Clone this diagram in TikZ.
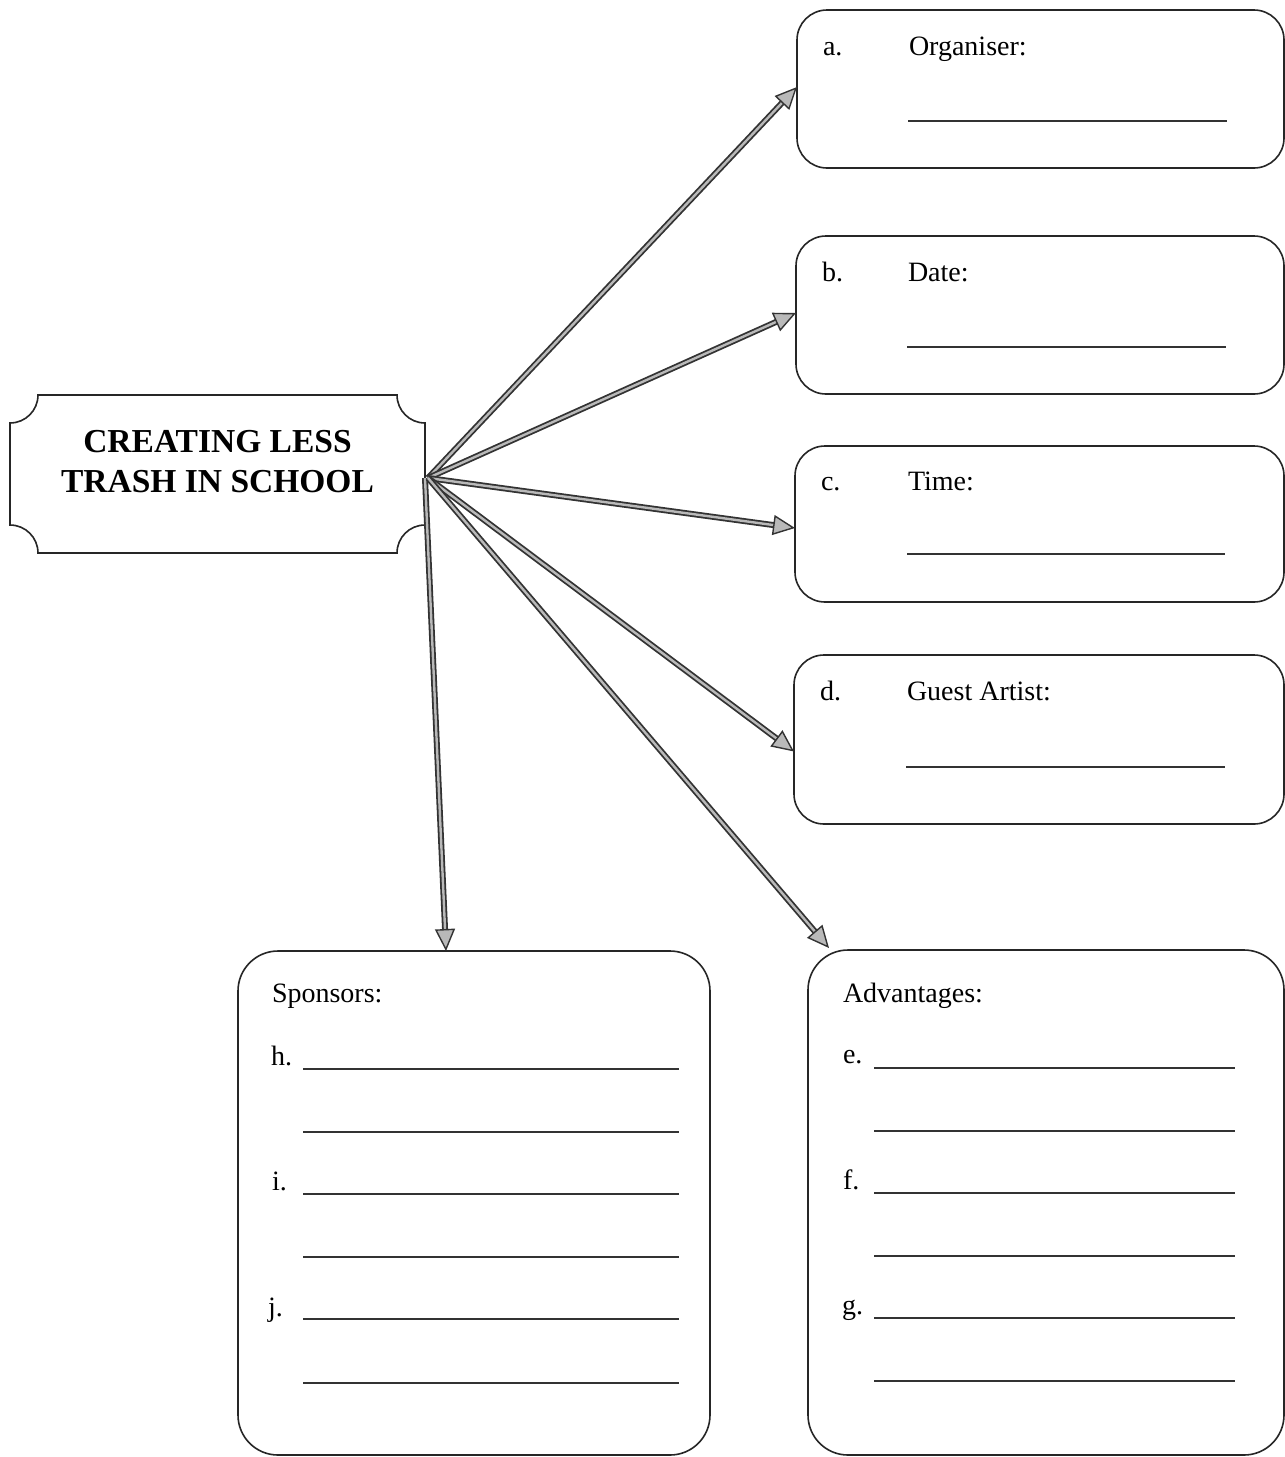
\documentclass[tikz,border=0pt]{standalone}
\usepackage{fontspec}
\setmainfont{Liberation Serif}
\usetikzlibrary{arrows.meta,calc}
\begin{document}
\begin{tikzpicture}[x=1pt,y=-1pt,
  every node/.style={inner sep=0pt, outer sep=0pt},
  card/.style={draw=black!85, line width=1.6pt, rounded corners=30pt},
  bigcard/.style={draw=black!85, line width=1.6pt, rounded corners=40pt},
  lbl/.style={anchor=base west, font=\fontsize{28}{32}\selectfont},
  blank/.style={draw=black!80, line width=1.4pt},
  arr/.style={draw=black!80, line width=1.8pt, double=gray!55, double distance=2.4pt,
    -{Triangle[length=22pt,width=20pt,fill=gray!55,color=black!80,line width=1.4pt]}}
]
\useasboundingbox (0,0) rectangle (1285,1457);
\fill[white] (0,0) rectangle (1285,1457);

% title frame
\node[font=\fontsize{33.5}{40}\selectfont\bfseries, align=center] (title) at (217.5,462) {CREATING LESS\\TRASH IN SCHOOL};
\draw[black!85, line width=1.6pt]
  (38,395) -- (397,395) arc[start angle=180, end angle=90, radius=28]
  -- (425,525) arc[start angle=270, end angle=180, radius=28]
  -- (38,553) arc[start angle=0, end angle=-90, radius=28]
  -- (10,423) arc[start angle=90, end angle=0, radius=28] -- cycle;
\coordinate (hub) at (428,478);

% right cards
\node[card, minimum width=487pt, minimum height=158pt] (a) at (1040.5,89) {};
\node[card, minimum width=488pt, minimum height=158pt] (b) at (1040,315) {};
\node[card, minimum width=489pt, minimum height=156pt] (c) at (1039.5,524) {};
\node[card, minimum width=490pt, minimum height=169pt] (d) at (1039,739.5) {};
\node[bigcard, minimum width=472pt, minimum height=504pt] (sp) at (474,1203) {};
\node[bigcard, minimum width=476pt, minimum height=505pt] (adv) at (1046,1202.5) {};

% texts in the right cards
\node[lbl] at (823,55) {a.};  \node[lbl] at (909,55) {Organiser:};
\draw[blank] (908,121) -- (1227,121);
\node[lbl] at (822,281) {b.}; \node[lbl] at (908,281) {Date:};
\draw[blank] (907,347) -- (1226,347);
\node[lbl] at (821,490) {c.}; \node[lbl] at (908,490) {Time:};
\draw[blank] (907,554) -- (1225,554);
\node[lbl] at (820,700) {d.}; \node[lbl] at (907,700) {Guest Artist:};
\draw[blank] (906,767) -- (1225,767);

% sponsors
\node[lbl] at (272,1002) {Sponsors:};
\node[lbl] at (271,1065) {h.};
\node[lbl] at (272,1190) {i.};
\node[lbl] at (268,1316) {j.};
\foreach \yy in {1069,1132,1194,1257,1319,1383}
  \draw[blank] (303,\yy) -- (679,\yy);

% advantages
\node[lbl] at (843,1002) {Advantages:};
\node[lbl] at (843,1063) {e.};
\node[lbl] at (843,1189) {f.};
\node[lbl] at (842,1314) {g.};
\foreach \yy in {1068,1131,1193,1256,1318,1381}
  \draw[blank] (874,\yy) -- (1235,\yy);

% connectors
\draw[arr] (hub) -- ([yshift=2pt]a.west);
\draw[arr] (hub) -- ([yshift=2pt]b.west);
\draw[arr] (hub) -- ([yshift=-4pt]c.west);
\draw[arr] (hub) -- ([yshift=-12pt]d.west);
\draw[arr] ([xshift=-3pt]hub) -- ([xshift=-28pt]sp.north);
\draw[arr] (hub) -- ([xshift=21pt,yshift=2pt]adv.north west);
\end{tikzpicture}
\end{document}
